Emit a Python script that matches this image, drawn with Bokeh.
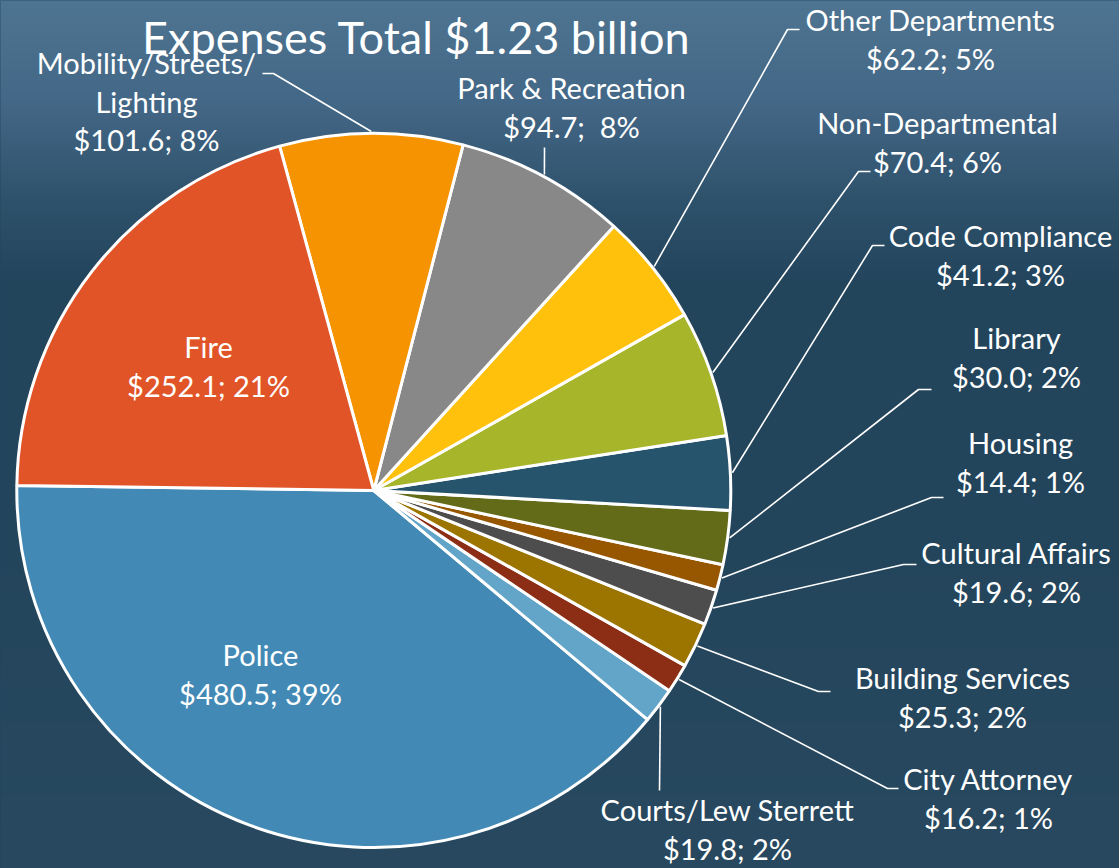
import numpy as np
from bokeh.plotting import figure
from bokeh.models import Range1d, GlobalInlineStyleSheet
from bokeh.core.properties import value
from bokeh.embed import file_html
from bokeh.resources import INLINE

# ---------------- data ----------------
title_text = "Expenses Total $1.23 billion"
departments = ["Police", "Courts/Lew Sterrett", "City Attorney", "Building Services",
               "Cultural Affairs", "Housing", "Library", "Code Compliance",
               "Non-Departmental", "Other Departments", "Park & Recreation",
               "Mobility/Streets/\nLighting", "Fire"]
expenses = [480.5, 19.8, 16.2, 25.3, 19.6, 14.4, 30.0, 41.2, 70.4, 62.2, 94.7, 101.6, 252.1]
colors = ["#428AB5", "#62A5C8", "#8B2E15", "#9C7500", "#4D4D4D", "#975700", "#636B19",
          "#27546D", "#A7B52A", "#FFC10B", "#888888", "#F59300", "#E05428"]
label_gap = ["; ", "; ", "; ", "; ", "; ", "; ", "; ", "; ", "; ", "; ", ";\u00a0 ", "; ", "; "]

# ---------------- layout (page pixel coords, y down) ----------------
W, H = 1119, 868
CX, CY, R = 373.3, 490.0, 357.0
START_DEG = 179.2
LINE_STEP = 38.5
TEXT_DY = -1
label_pos = [(260, 655), (727, 810), (988, 779), (962, 678), (1016, 553), (1020, 443),
             (1016, 338), (1000, 236), (937, 123), (930, 20), (571, 88), (146, 63), (208, 347)]
leader_pts = [None, [(659, 790)], [(887, 788), (898, 788)], [(818, 691), (830, 691)],
              [(903, 564), (916, 564)], [(931, 497), (943, 497)], [(918, 389), (931, 389)],
              [(872, 245), (884, 245)], [(858, 171), (870, 171)], [(787, 29), (799, 29)],
              [(544, 147)], [(273, 73), (262, 73)], None]

FONT = value("Lato")
FS = "29px"


def fy(y):
    return H - y


p = figure(width=W, height=H, x_range=Range1d(0, W), y_range=Range1d(0, H),
           output_backend="svg", toolbar_location=None, min_border=0)
p.axis.visible = False
p.grid.visible = False
p.outline_line_color = None
p.background_fill_color = "#23455C"
p.border_fill_color = "#23455C"
p.stylesheets = [GlobalInlineStyleSheet(css=(
    "html,body{margin:0;padding:0;overflow:hidden;}"
    "html{min-height:100%;background:linear-gradient(to bottom,#4E7592 0%,#446887 11%,"
    "#2F526C 23%,#23455D 32%,#23455C 58%,#28495F 100%);}"
    "body{background:transparent;}"))]

# background gradient (style only)
stops_y = [0, 100, 200, 280, 500, 868]
stops_c = np.array([[78, 117, 146], [68, 104, 135], [47, 82, 108], [35, 69, 93],
                    [35, 69, 92], [40, 73, 95]], dtype=float)
ys_ref = H - (np.arange(H) + 0.5)
img = np.empty((H, 1), dtype=np.uint32)
view = img.view(dtype=np.uint8).reshape((H, 1, 4))
for k in range(3):
    view[:, 0, k] = np.interp(ys_ref, stops_y, stops_c[:, k]).astype(np.uint8)
view[:, 0, 3] = 255
p.image_rgba(image=[img], x=0, y=0, dw=W, dh=H)

# title
p.text(x=[416], y=[fy(36)], text=[title_text], text_align="center", text_baseline="alphabetic",
       text_font=FONT, text_font_size="45px", text_color="white")

# wedges
total = sum(expenses)
angles = np.array(expenses) / total * 2 * np.pi
cum = np.concatenate([[0], np.cumsum(angles)])
start = np.deg2rad(START_DEG) + cum[:-1]
end = np.deg2rad(START_DEG) + cum[1:]
p.wedge(x=CX, y=fy(CY), radius=R, start_angle=start, end_angle=end, direction="anticlock",
        fill_color=colors, line_color="white", line_width=3)

# leader lines
xs, ys = [], []
for i, pts in enumerate(leader_pts):
    if pts is None:
        continue
    mid = (start[i] + end[i]) / 2
    sx = CX + (R + 2) * np.cos(mid)
    sy = CY - (R + 2) * np.sin(mid)
    xs.append([sx] + [q[0] for q in pts])
    ys.append([fy(sy)] + [fy(q[1]) for q in pts])
p.multi_line(xs=xs, ys=ys, line_color="white", line_width=1.6)

# labels
tx, ty, tt = [], [], []
for i, name in enumerate(departments):
    pct = round(expenses[i] / total * 100)
    lines = name.split("\n") + [f"${expenses[i]:.1f}{label_gap[i]}{pct}%"]
    lx, ly = label_pos[i]
    for j, t in enumerate(lines):
        tx.append(lx)
        ty.append(fy(ly + j * LINE_STEP + TEXT_DY))
        tt.append(t)
p.text(x=tx, y=ty, text=tt, text_align="center", text_baseline="middle",
       text_font=FONT, text_font_size=FS, text_color="white")

open("out.html", "w").write(file_html(p, INLINE))
